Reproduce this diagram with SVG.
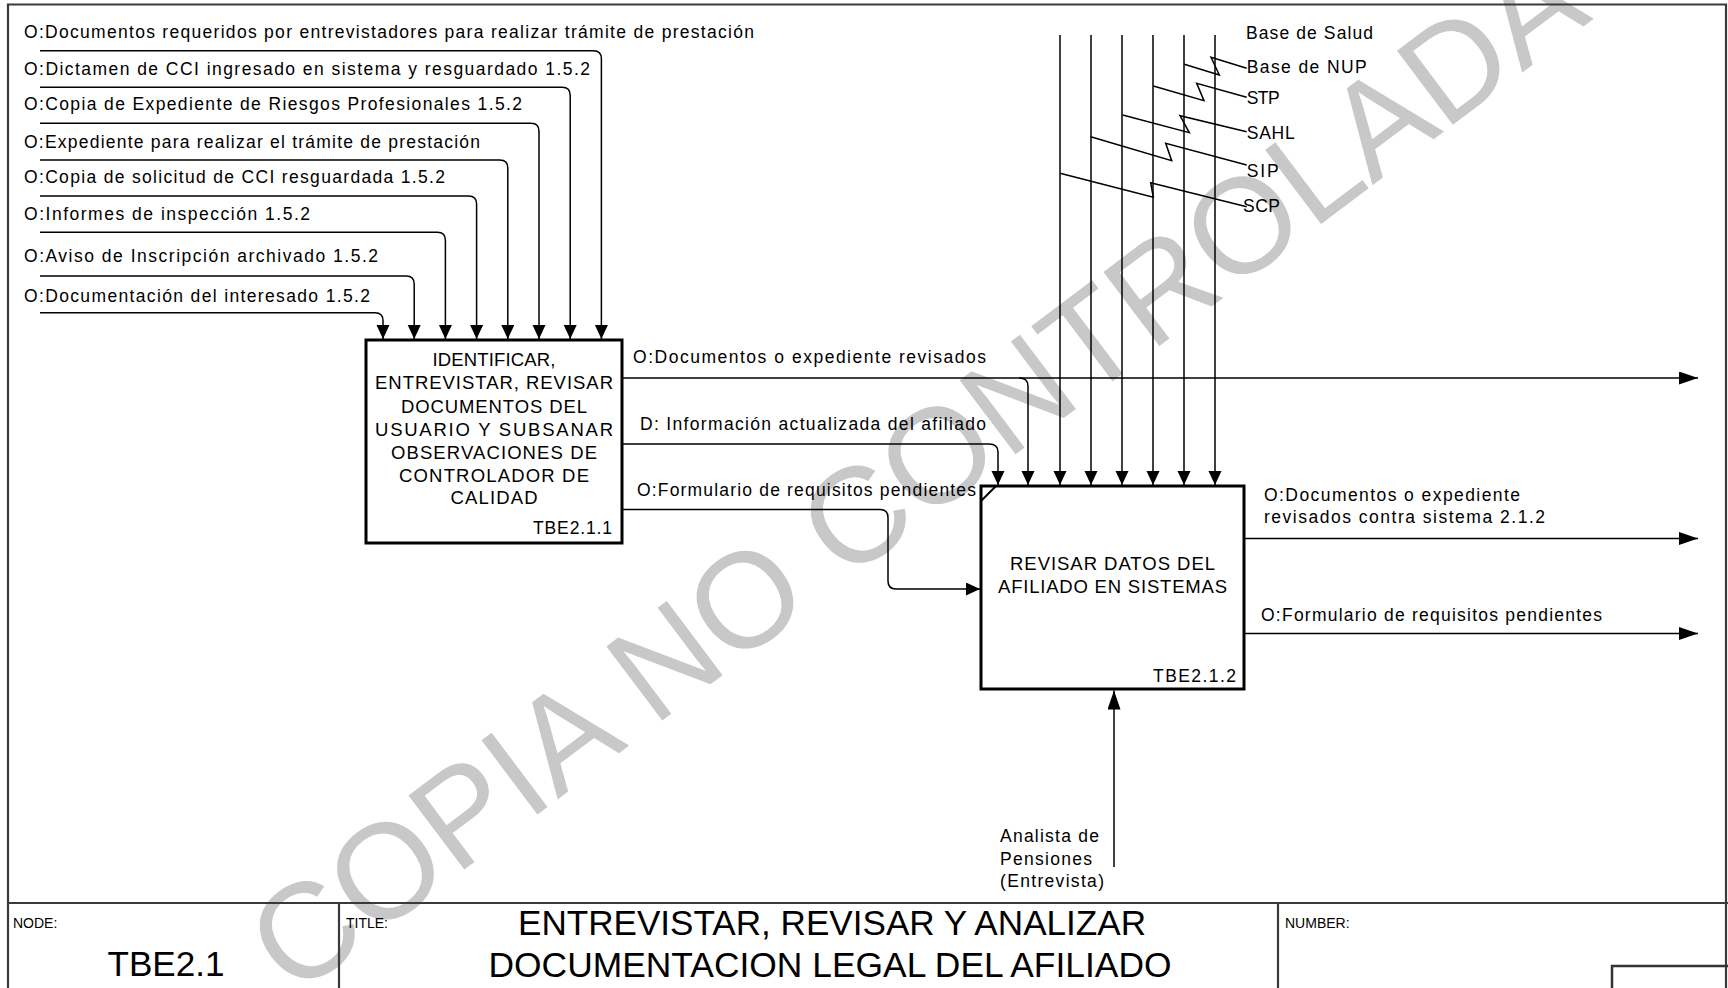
<svg xmlns="http://www.w3.org/2000/svg" width="1728" height="988" viewBox="0 0 1728 988">
<style>
.t{font-family:"Liberation Sans",Arial,sans-serif;font-size:17.5px;fill:#000}
.b{font-family:"Liberation Sans",Arial,sans-serif;font-size:18.5px;fill:#000;text-anchor:middle}
.c{fill:none;stroke:#000;stroke-width:1.5}
.box{fill:#fff;stroke:#000;stroke-width:3}
.frame{fill:none;stroke:#3a3a3a;stroke-width:2.2}
.wm{font-family:"Liberation Sans",Arial,sans-serif;font-size:135px;fill:#c8c8c8;text-anchor:middle}
.hd{font-family:"Liberation Sans",Arial,sans-serif;font-size:14px;fill:#000}
.big{font-family:"Liberation Sans",Arial,sans-serif;font-size:35px;fill:#000;text-anchor:middle}
</style>
<defs>
<marker id="a" markerUnits="userSpaceOnUse" markerWidth="15" markerHeight="14" refX="14" refY="6.5" orient="auto"><path d="M0,0 L14,6.5 L0,13 z" fill="#000"/></marker>
<marker id="aL" markerUnits="userSpaceOnUse" markerWidth="20" markerHeight="14" refX="19" refY="6.5" orient="auto"><path d="M0,0 L19,6.5 L0,13 z" fill="#000"/></marker>
</defs>
<rect x="0" y="0" width="1728" height="988" fill="#fff"/>
<g id="watermark">
<text class="wm" transform="translate(915,470) rotate(-37)" x="0" y="48">COPIA NO CONTROLADA</text>
</g>
<g id="frame">
<path class="frame" d="M8,988 V4.5 H1726 V988"/>
<path class="frame" d="M8,903 H1728 M339,903 V988 M1278,903 V988"/>
<rect x="1612" y="966" width="130" height="40" fill="none" stroke="#333" stroke-width="2.5"/>
</g>
<g id="connectors">
<path class="c" marker-end="url(#a)" d="M40,50.7 H593.4 Q601.4,50.7 601.4,58.7 V339"/>
<path class="c" marker-end="url(#a)" d="M40,87.3 H562.2 Q570.2,87.3 570.2,95.3 V339"/>
<path class="c" marker-end="url(#a)" d="M40,123.3 H531 Q539,123.3 539,131.3 V339"/>
<path class="c" marker-end="url(#a)" d="M40,160 H499.8 Q507.8,160 507.8,168 V339"/>
<path class="c" marker-end="url(#a)" d="M40,196 H468.6 Q476.6,196 476.6,204 V339"/>
<path class="c" marker-end="url(#a)" d="M40,232.3 H437.4 Q445.4,232.3 445.4,240.3 V339"/>
<path class="c" marker-end="url(#a)" d="M40,276 H406.2 Q414.2,276 414.2,284 V339"/>
<path class="c" marker-end="url(#a)" d="M40,312.7 H375 Q383,312.7 383,320.7 V339"/>
<path class="c" marker-end="url(#aL)" d="M622,378 H1698"/>
<path class="c" marker-end="url(#a)" d="M1019,378 Q1028,378 1028,386 V485"/>
<path class="c" marker-end="url(#a)" d="M622,444 H989 Q998,444 998,452 V485"/>
<path class="c" marker-end="url(#a)" d="M622,509.5 H880 Q888,509.5 888,517.5 V581 Q888,589 896,589 H980"/>
<path class="c" marker-end="url(#a)" d="M1060,35 V485"/>
<path class="c" marker-end="url(#a)" d="M1091,35 V485"/>
<path class="c" marker-end="url(#a)" d="M1122,35 V485"/>
<path class="c" marker-end="url(#a)" d="M1153,35 V485"/>
<path class="c" marker-end="url(#a)" d="M1184,35 V485"/>
<path class="c" marker-end="url(#a)" d="M1215,35 V485"/>
<polyline class="c" stroke-width="1.2" points="1184.3,64.3 1219.3,75 1211,57.3 1246.7,68.3"/>
<polyline class="c" stroke-width="1.2" points="1153.3,86 1204,100.7 1196.7,83.3 1246.7,97.3"/>
<polyline class="c" stroke-width="1.2" points="1122.7,115 1189.3,132.7 1180,115.7 1246.7,131.7"/>
<polyline class="c" stroke-width="1.2" points="1090.7,136.7 1171.7,160.7 1165.7,143.3 1246.7,165"/>
<polyline class="c" stroke-width="1.2" points="1060,173.3 1153.3,197.3 1150.7,182.7 1246.7,206.7"/>
<path class="c" marker-end="url(#aL)" d="M1244,538.5 H1698"/>
<path class="c" marker-end="url(#aL)" d="M1244,633.5 H1698"/>
<path class="c" marker-end="url(#aL)" d="M1114,867 V690.5"/>
</g>
<g id="labels">
<text class="t" x="24" y="38.3" textLength="730" lengthAdjust="spacing">O:Documentos requeridos por entrevistadores para realizar trámite de prestación</text>
<text class="t" x="24" y="75" textLength="566" lengthAdjust="spacing">O:Dictamen de CCI ingresado en sistema y  resguardado 1.5.2</text>
<text class="t" x="24" y="110" textLength="498" lengthAdjust="spacing">O:Copia de Expediente de Riesgos Profesionales 1.5.2</text>
<text class="t" x="24" y="148.3" textLength="456" lengthAdjust="spacing">O:Expediente para realizar el trámite de prestación</text>
<text class="t" x="24" y="183.3" textLength="421" lengthAdjust="spacing">O:Copia de solicitud de CCI resguardada 1.5.2</text>
<text class="t" x="24" y="220" textLength="286" lengthAdjust="spacing">O:Informes de inspección 1.5.2</text>
<text class="t" x="24" y="261.7" textLength="354" lengthAdjust="spacing">O:Aviso de Inscripción archivado 1.5.2</text>
<text class="t" x="24" y="301.7" textLength="346" lengthAdjust="spacing">O:Documentación del interesado 1.5.2</text>
<text class="t" x="633" y="362.7" textLength="353" lengthAdjust="spacing">O:Documentos o expediente revisados</text>
<text class="t" x="640" y="430" textLength="346" lengthAdjust="spacing">D: Información actualizada del afiliado</text>
<text class="t" x="637" y="496" textLength="339" lengthAdjust="spacing">O:Formulario de requisitos pendientes</text>
<text class="t" x="1264" y="500.7" textLength="256" lengthAdjust="spacing">O:Documentos o expediente</text>
<text class="t" x="1264" y="523.3" textLength="281" lengthAdjust="spacing">revisados contra sistema 2.1.2</text>
<text class="t" x="1261" y="620.7" textLength="341" lengthAdjust="spacing">O:Formulario de requisitos pendientes</text>
<text class="t" x="1246" y="39.3" textLength="127" lengthAdjust="spacing">Base de Salud</text>
<text class="t" x="1246.7" y="73.3" textLength="120" lengthAdjust="spacing">Base de NUP</text>
<text class="t" x="1246.7" y="104.3" textLength="33" lengthAdjust="spacing">STP</text>
<text class="t" x="1246.7" y="139.3" textLength="48" lengthAdjust="spacing">SAHL</text>
<text class="t" x="1246.7" y="176.7" textLength="32" lengthAdjust="spacing">SIP</text>
<text class="t" x="1243" y="211.7" textLength="37" lengthAdjust="spacing">SCP</text>
<text class="t" x="1000" y="841.7" textLength="99" lengthAdjust="spacing">Analista de</text>
<text class="t" x="1000" y="865" textLength="92" lengthAdjust="spacing">Pensiones</text>
<text class="t" x="1000" y="887" textLength="104" lengthAdjust="spacing">(Entrevista)</text>
</g>
<g id="node-TBE2.1.1">
<rect class="box" x="366" y="340" width="256" height="203"/>
<text class="b" x="494" y="366" textLength="123" lengthAdjust="spacing">IDENTIFICAR,</text>
<text class="b" x="494" y="389.3" textLength="238" lengthAdjust="spacing">ENTREVISTAR, REVISAR</text>
<text class="b" x="494" y="412.7" textLength="186" lengthAdjust="spacing">DOCUMENTOS DEL</text>
<text class="b" x="494" y="436" textLength="238" lengthAdjust="spacing">USUARIO Y SUBSANAR</text>
<text class="b" x="494" y="459.3" textLength="206" lengthAdjust="spacing">OBSERVACIONES DE</text>
<text class="b" x="494" y="481.7" textLength="190" lengthAdjust="spacing">CONTROLADOR DE</text>
<text class="b" x="494" y="504.3" textLength="87" lengthAdjust="spacing">CALIDAD</text>
<text class="t" x="612" y="534.3" text-anchor="end" textLength="79" lengthAdjust="spacing">TBE2.1.1</text>
</g>
<g id="node-TBE2.1.2">
<rect class="box" x="981" y="486" width="263" height="203"/>
<line x1="981" y1="501" x2="996" y2="486" stroke="#000" stroke-width="2"/>
<text class="b" x="1112.5" y="570" textLength="205" lengthAdjust="spacing">REVISAR DATOS DEL</text>
<text class="b" x="1112.5" y="592.7" textLength="229" lengthAdjust="spacing">AFILIADO EN SISTEMAS</text>
<text class="t" x="1236" y="681.7" text-anchor="end" textLength="83" lengthAdjust="spacing">TBE2.1.2</text>
</g>
<g id="title-block">
<text class="hd" x="13" y="928">NODE:</text>
<text class="big" x="166" y="976" textLength="117" lengthAdjust="spacingAndGlyphs">TBE2.1</text>
<text class="hd" x="346" y="928">TITLE:</text>
<text class="big" x="832" y="935" textLength="628" lengthAdjust="spacingAndGlyphs">ENTREVISTAR, REVISAR Y ANALIZAR</text>
<text class="big" x="830" y="977" textLength="683" lengthAdjust="spacingAndGlyphs">DOCUMENTACION LEGAL DEL AFILIADO</text>
<text class="hd" x="1285" y="928">NUMBER:</text>
</g>
</svg>
